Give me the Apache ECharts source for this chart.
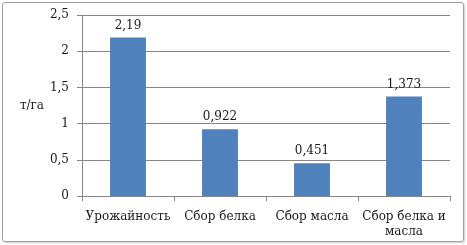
<!DOCTYPE html>
<html><head><meta charset="utf-8">
<script src="https://cdn.jsdelivr.net/npm/echarts@6/dist/echarts.min.js"></script>
<style>
html,body{margin:0;padding:0;background:#fff;}
#frame{position:absolute;left:2px;top:2px;width:460px;height:238px;border:1px solid #a0a0a0;border-radius:3px;box-shadow:1px 1px 2px #ccc;}
#c{position:absolute;left:0;top:0;width:467px;height:245px;}
</style></head>
<body>
<div id="frame"></div>
<div id="c"></div>
<script>
const categories = ['Урожайность', 'Сбор белка', 'Сбор масла', 'Сбор белка и\nмасла'];
const values = [2.19, 0.922, 0.451, 1.373];
const valueLabels = ['2,19', '0,922', '0,451', '1,373'];
const yTicks = [0, 0.5, 1, 1.5, 2, 2.5];

const font = 'DejaVu Serif';
const fs = 12;
const txt = '#1a1a1a';
const chart = echarts.init(document.getElementById('c'));
chart.setOption({
  animation: false,
  textStyle: {fontFamily: font},
  grid: {left: 82, right: 17, top: 15, bottom: 49},
  xAxis: {
    type: 'category', data: categories,
    axisLine: {lineStyle: {color: '#868686'}},
    axisTick: {show: true, length: 5, lineStyle: {color: '#868686'}},
    axisLabel: {color: txt, fontFamily: font, fontSize: fs, margin: 13, lineHeight: 15, interval: 0}
  },
  yAxis: {
    type: 'value', min: 0, max: 2.5, interval: 0.5,
    name: 'т/га', nameLocation: 'middle', nameRotate: 0, nameGap: 38,
    nameTextStyle: {color: txt, fontFamily: font, fontSize: fs, padding: [4, 0, 0, 0]},
    axisLine: {show: true, lineStyle: {color: '#868686'}},
    axisTick: {show: true, length: 5, lineStyle: {color: '#868686'}},
    splitLine: {lineStyle: {color: '#868686'}},
    axisLabel: {color: txt, fontFamily: font, fontSize: fs, margin: 13,
      formatter: v => String(v).replace('.', ',')}
  },
  series: [{
    type: 'bar', data: values, barWidth: '39%',
    itemStyle: {color: '#4F81BD'},
    label: {show: true, position: 'top', distance: 6, color: txt, fontFamily: font, fontSize: fs,
      formatter: p => valueLabels[p.dataIndex]}
  }]
});
</script>
</body></html>
